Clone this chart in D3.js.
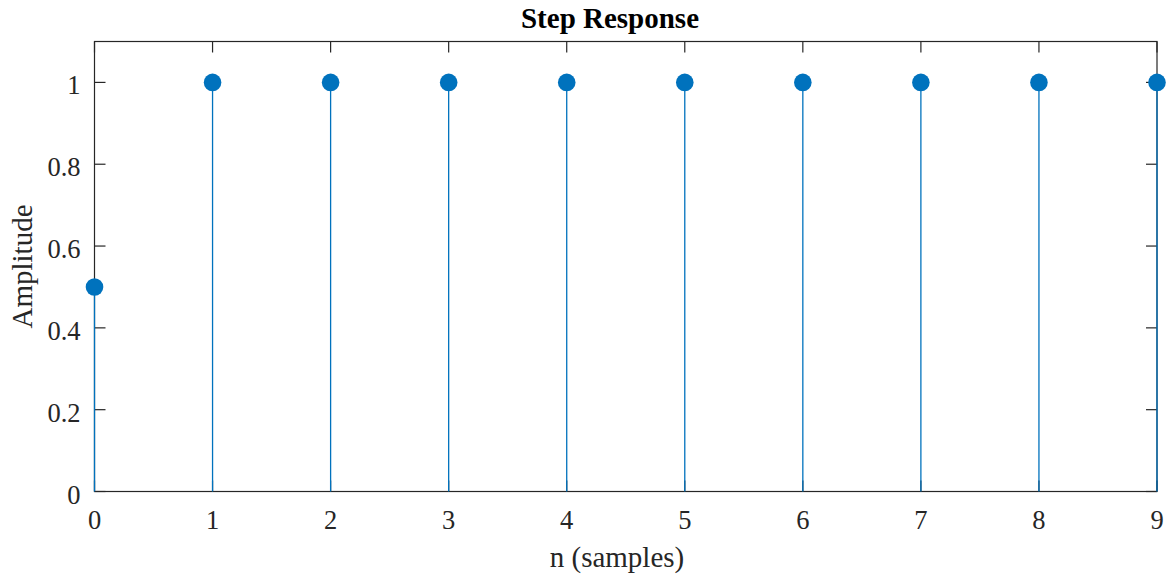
<!DOCTYPE html>
<html>
<head>
<meta charset="utf-8" />
<title>Step Response</title>
<style>
  body { margin: 0; background: #fff; }
  svg text { font-family: "Liberation Serif", "Times New Roman", serif; fill: #262626; }
</style>
</head>
<body>
<svg id="chart" width="1166" height="577"></svg>
<script src="https://cdn.jsdelivr.net/npm/d3@7"></script>
<script>
// data
var samples = [0, 1, 2, 3, 4, 5, 6, 7, 8, 9];
var amplitude = [0.5, 1, 1, 1, 1, 1, 1, 1, 1, 1];
var xTicks = [0, 1, 2, 3, 4, 5, 6, 7, 8, 9];
var yTicks = [0, 0.2, 0.4, 0.6, 0.8, 1];

var svg = d3.select("#chart");
var margin = {left: 94.5, right: 9, top: 41.5, bottom: 85.5};
var W = 1166, H = 577;

var x = d3.scaleLinear().domain([0, 9]).range([margin.left, W - margin.right]);
var y = d3.scaleLinear().domain([0, 1.1]).range([H - margin.bottom, margin.top]);

var axisColor = "#262626";
var tickLen = 11;

// box
svg.append("rect")
  .attr("x", x(0)).attr("y", y(1.1))
  .attr("width", x(9) - x(0)).attr("height", y(0) - y(1.1))
  .attr("fill", "none").attr("stroke", axisColor).attr("stroke-width", 1.2);

// x ticks bottom + top
var gx = svg.append("g");
xTicks.forEach(function(t) {
  gx.append("line").attr("x1", x(t)).attr("x2", x(t)).attr("y1", y(0)).attr("y2", y(0) - tickLen)
    .attr("stroke", axisColor).attr("stroke-width", 1.2);
  gx.append("line").attr("x1", x(t)).attr("x2", x(t)).attr("y1", y(1.1)).attr("y2", y(1.1) + tickLen)
    .attr("stroke", axisColor).attr("stroke-width", 1.2);
  gx.append("text").attr("x", x(t)).attr("y", 529)
    .attr("text-anchor", "middle").attr("font-size", 26.5).text(t);
});

// y ticks left + right
var gy = svg.append("g");
yTicks.forEach(function(t) {
  gy.append("line").attr("x1", x(0)).attr("x2", x(0) + tickLen).attr("y1", y(t)).attr("y2", y(t))
    .attr("stroke", axisColor).attr("stroke-width", 1.2);
  gy.append("line").attr("x1", x(9)).attr("x2", x(9) - tickLen).attr("y1", y(t)).attr("y2", y(t))
    .attr("stroke", axisColor).attr("stroke-width", 1.2);
  gy.append("text").attr("x", x(0) - 14).attr("y", y(t) + 12)
    .attr("text-anchor", "end").attr("font-size", 26.5).text(t);
});

// stems
var pts = samples.map(function(s, i) { return {n: s, v: amplitude[i]}; });
svg.append("g").selectAll("line").data(pts).enter().append("line")
  .attr("x1", function(d) { return x(d.n); })
  .attr("x2", function(d) { return x(d.n); })
  .attr("y1", y(0))
  .attr("y2", function(d) { return y(d.v); })
  .attr("stroke", "#0072BD").attr("stroke-width", 1.3);

svg.append("g").selectAll("circle").data(pts).enter().append("circle")
  .attr("cx", function(d) { return x(d.n); })
  .attr("cy", function(d) { return y(d.v); })
  .attr("r", 8.8)
  .attr("fill", "#0072BD");

// labels
svg.append("text").attr("x", 610).attr("y", 28)
  .attr("text-anchor", "middle").attr("font-size", 29).attr("font-weight", "bold")
  .style("fill", "#000").text("Step Response");

svg.append("text").attr("x", 617).attr("y", 567)
  .attr("text-anchor", "middle").attr("font-size", 29).text("n (samples)");

svg.append("text")
  .attr("transform", "translate(32," + ((y(0) + y(1.1)) / 2) + ") rotate(-90)")
  .attr("text-anchor", "middle").attr("font-size", 29).text("Amplitude");
</script>
</body>
</html>
